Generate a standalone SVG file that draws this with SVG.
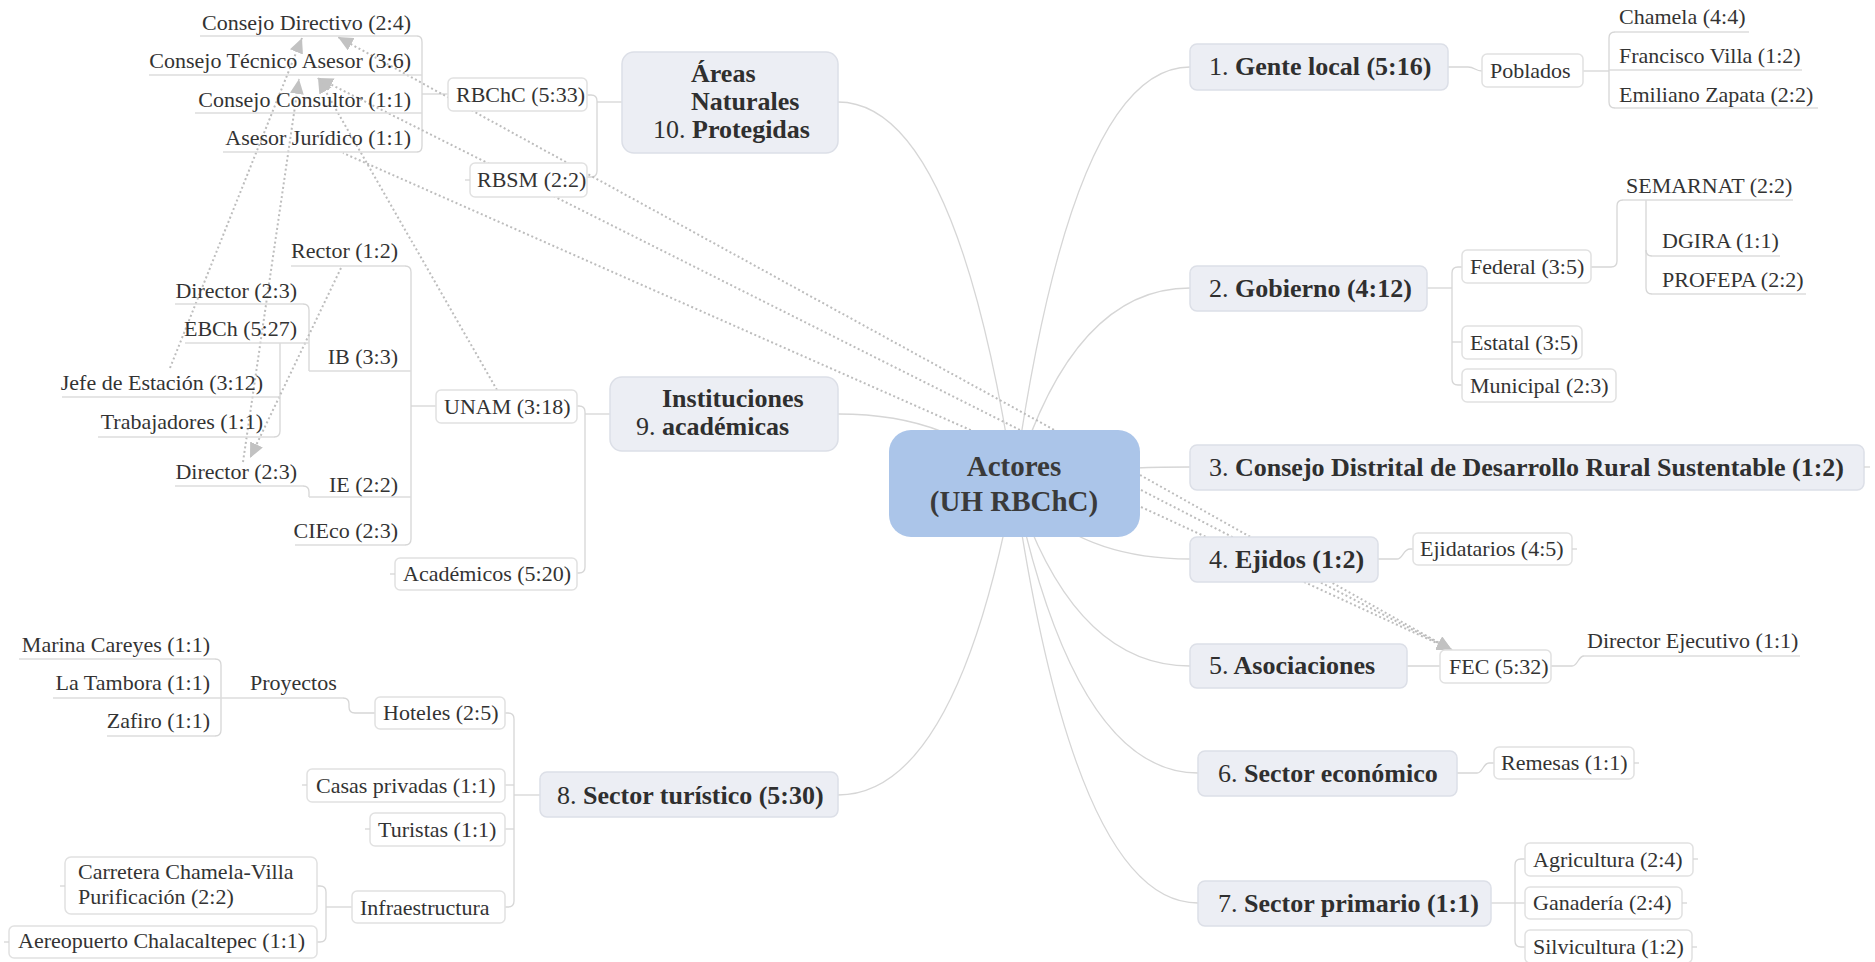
<svg xmlns="http://www.w3.org/2000/svg" width="1875" height="962" viewBox="0 0 1875 962">
<defs>
<style>
.ln{fill:none;stroke:#d6d6d6;stroke-width:1.3}
.ul{fill:none;stroke:#dcdcdc;stroke-width:1.6}
.rel{fill:none;stroke:#bdbdbd;stroke-width:2;stroke-dasharray:2 2.6}
.main{fill:#eceef4;stroke:#dcdfe7;stroke-width:1.5}
.leaf{fill:#ffffff;stroke:#e1e1e1;stroke-width:1.5}
.ctr{fill:#abc5e9}
text{font-family:"Liberation Serif","Times New Roman",serif;fill:#333}
.t{font-size:22px}
.m{font-size:26px;font-weight:bold;fill:#2f2f2f}
.n{font-weight:normal}
.c{font-size:29px;font-weight:bold;fill:#3a3a3a;text-anchor:middle}
.r{text-anchor:end}
</style>
<marker id="arr" markerWidth="16" markerHeight="14" refX="15" refY="7" orient="auto" markerUnits="userSpaceOnUse"><path d="M0,0 L15,7 L0,14 z" fill="#c2c2c2"/></marker>
</defs>
<rect x="0" y="0" width="1875" height="962" fill="#ffffff"/>
<g id="connectors">
<path class="ln" d="M1014,483 Q1072,67 1190,67"/>
<path class="ln" d="M1014,483 Q1072,288 1190,288"/>
<path class="ln" d="M1014,483 Q1072,467 1190,467"/>
<path class="ln" d="M1014,483 Q1072,559 1190,559"/>
<path class="ln" d="M1014,483 Q1072,666 1190,666"/>
<path class="ln" d="M1014,483 Q1075,773 1198,773"/>
<path class="ln" d="M1014,483 Q1075,903 1198,903"/>
<path class="ln" d="M1014,483 Q956,795 838,795"/>
<path class="ln" d="M1014,483 Q956,414 838,414"/>
<path class="ln" d="M1014,483 Q956,102 838,102"/>
<path class="ln" d="M1448,67 H1468 C1475,67 1475,71 1482,71"/>
<path class="ln" d="M1583,71 H1609"/>
<path class="ln" d="M1615,32 Q1609,32 1609,38 V102 Q1609,108 1615,108"/>
<path class="ln" d="M1427,288 H1452"/>
<path class="ln" d="M1462,267 H1458 Q1452,267 1452,273 V379 Q1452,385 1458,385 H1462"/>
<path class="ln" d="M1452,342 H1462"/>
<path class="ln" d="M1591,267 H1611 Q1617,267 1617,261 V206 Q1617,200 1623,200"/>
<path class="ln" d="M1646,200 V250 Q1646,256 1652,256"/>
<path class="ln" d="M1646,250 V288 Q1646,294 1652,294"/>
<path class="ln" d="M1378,559 H1397 C1403,559 1403,549 1410,549 H1413"/>
<path class="ln" d="M1407,666 H1440"/>
<path class="ln" d="M1551,666 H1572 C1578,666 1578,656 1584,656"/>
<path class="ln" d="M1457,773 H1477 C1483,773 1483,763 1489,763 H1494"/>
<path class="ln" d="M1491,903 H1515"/>
<path class="ln" d="M1525,859 H1521 Q1515,859 1515,865 V941 Q1515,947 1521,947 H1525"/>
<path class="ln" d="M1515,903 H1525"/>
<path class="ln" d="M622,102 H597"/>
<path class="ln" d="M587,95 H591 Q597,95 597,101 V171 Q597,177 591,177 H587"/>
<path class="ln" d="M448,94 H422"/>
<path class="ln" d="M417,36 Q422,36 422,42 V146 Q422,152 417,152"/>
<path class="ln" d="M610,414 H585"/>
<path class="ln" d="M577,406 H579 Q585,406 585,412 V567 Q585,573 579,573 H577"/>
<path class="ln" d="M436,406 H411"/>
<path class="ln" d="M405,266 Q411,266 411,272 V539 Q411,545 405,545"/>
<path class="ln" d="M303,304 Q309,304 309,310 V371"/>
<path class="ln" d="M280,343 V431 Q280,437 274,437"/>
<path class="ln" d="M303,486 Q309,486 309,492 V497"/>
<path class="ln" d="M540,795 H514"/>
<path class="ln" d="M505,713 H508 Q514,713 514,719 V901 Q514,907 508,907 H505"/>
<path class="ln" d="M514,785 H505"/>
<path class="ln" d="M514,829 H505"/>
<path class="ln" d="M375,713 H355 Q349,713 349,707 V704 Q349,698 343,698"/>
<path class="ln" d="M215,659 Q221,659 221,665 V730 Q221,736 215,736"/>
<path class="ln" d="M352,907 H326"/>
<path class="ln" d="M317,886 H320 Q326,886 326,892 V936 Q326,942 320,942 H317"/>
<path class="rel" d="M170,368 L302,38" marker-end="url(#arr)"/>
<path class="rel" d="M243,462 L299,79" marker-end="url(#arr)"/>
<path class="rel" d="M341,268 L250,458" marker-end="url(#arr)"/>
<path class="rel" d="M497,390 L318,78" marker-end="url(#arr)"/>
<path class="rel" d="M1058,432 L338,37" marker-end="url(#arr)"/>
<path class="rel" d="M1024,432 L318,78" marker-end="url(#arr)"/>
<path class="rel" d="M975,432 L343,153"/>
<path class="rel" d="M1140,475 L1452,650" marker-end="url(#arr)"/>
<path class="rel" d="M1141,490 L1452,650" marker-end="url(#arr)"/>
<path class="rel" d="M1141,507 L1452,650" marker-end="url(#arr)"/>
</g>
<g id="n-center"><rect class="ctr" x="889" y="430" width="251" height="107" rx="22"/><text class="c" x="1014" y="476">Actores</text><text class="c" x="1014" y="511">(UH RBChC)</text></g>
<g id="n1"><rect class="main" x="1190" y="44" width="258" height="46" rx="7"/><text class="m" x="1209" y="75"><tspan class="n">1.</tspan> Gente local (5:16)</text></g>
<g id="n1-poblados"><rect class="leaf" x="1482" y="54" width="101" height="33" rx="5"/><text class="t" x="1490" y="78">Poblados</text></g>
<g id="n1-chamela"><path class="ul" d="M1615,32 H1749"/><text class="t" x="1619" y="24">Chamela (4:4)</text></g>
<g id="n1-villa"><path class="ul" d="M1609,70 H1802"/><text class="t" x="1619" y="63">Francisco Villa (1:2)</text></g>
<g id="n1-zapata"><path class="ul" d="M1615,108 H1818"/><text class="t" x="1619" y="102">Emiliano Zapata (2:2)</text></g>
<g id="n2"><rect class="main" x="1190" y="266" width="237" height="45" rx="7"/><text class="m" x="1209" y="297"><tspan class="n">2.</tspan> Gobierno (4:12)</text></g>
<g id="n2-federal"><rect class="leaf" x="1462" y="250" width="129" height="33" rx="5"/><text class="t" x="1470" y="274">Federal (3:5)</text></g>
<g id="n2-estatal"><rect class="leaf" x="1462" y="326" width="120" height="33" rx="5"/><text class="t" x="1470" y="350">Estatal (3:5)</text></g>
<g id="n2-municipal"><rect class="leaf" x="1462" y="369" width="154" height="33" rx="5"/><text class="t" x="1470" y="393">Municipal (2:3)</text></g>
<g id="n2-semarnat"><path class="ul" d="M1623,200 H1793"/><text class="t" x="1626" y="193">SEMARNAT (2:2)</text></g>
<g id="n2-dgira"><path class="ul" d="M1652,256 H1780"/><text class="t" x="1662" y="248">DGIRA (1:1)</text></g>
<g id="n2-profepa"><path class="ul" d="M1652,294 H1806"/><text class="t" x="1662" y="287">PROFEPA (2:2)</text></g>
<g id="n3"><rect class="main" x="1190" y="445" width="674" height="45" rx="7"/><path class="ln" d="M1864,467 H1870"/><text class="m" x="1209" y="476"><tspan class="n">3.</tspan> Consejo Distrital de Desarrollo Rural Sustentable (1:2)</text></g>
<g id="n4"><rect class="main" x="1190" y="537" width="188" height="45" rx="7"/><text class="m" x="1209" y="568"><tspan class="n">4.</tspan> Ejidos (1:2)</text></g>
<g id="n4-ejidatarios"><rect class="leaf" x="1413" y="533" width="159" height="32" rx="5"/><path class="ln" d="M1572,549 H1577"/><text class="t" x="1420" y="556">Ejidatarios (4:5)</text></g>
<g id="n5"><rect class="main" x="1190" y="644" width="217" height="44" rx="7"/><text class="m" x="1209" y="674"><tspan class="n">5.</tspan> Asociaciones</text></g>
<g id="n5-fec"><rect class="leaf" x="1440" y="650" width="111" height="33" rx="5"/><text class="t" x="1449" y="674">FEC (5:32)</text></g>
<g id="n5-director"><path class="ul" d="M1584,656 H1800"/><text class="t" x="1587" y="648">Director Ejecutivo (1:1)</text></g>
<g id="n6"><rect class="main" x="1198" y="751" width="259" height="45" rx="7"/><text class="m" x="1218" y="782"><tspan class="n">6.</tspan> Sector económico</text></g>
<g id="n6-remesas"><rect class="leaf" x="1494" y="747" width="140" height="32" rx="5"/><path class="ln" d="M1634,763 H1639"/><text class="t" x="1501" y="770">Remesas (1:1)</text></g>
<g id="n7"><rect class="main" x="1198" y="881" width="293" height="45" rx="7"/><text class="m" x="1218" y="912"><tspan class="n">7.</tspan> Sector primario (1:1)</text></g>
<g id="n7-agricultura"><rect class="leaf" x="1525" y="843" width="168" height="33" rx="5"/><path class="ln" d="M1693,859 H1698"/><text class="t" x="1533" y="867">Agricultura (2:4)</text></g>
<g id="n7-ganaderia"><rect class="leaf" x="1525" y="887" width="157" height="32" rx="5"/><path class="ln" d="M1682,903 H1687"/><text class="t" x="1533" y="910">Ganadería (2:4)</text></g>
<g id="n7-silvicultura"><rect class="leaf" x="1525" y="930" width="167" height="33" rx="5"/><path class="ln" d="M1692,947 H1697"/><text class="t" x="1533" y="954">Silvicultura (1:2)</text></g>
<g id="n10"><rect class="main" x="622" y="52" width="216" height="101" rx="12"/><text class="m" x="691" y="82">Áreas</text><text class="m" x="691" y="110">Naturales</text><text class="m" x="653" y="138"><tspan class="n">10.</tspan> Protegidas</text></g>
<g id="n10-rbchc"><rect class="leaf" x="448" y="78" width="139" height="33" rx="5"/><text class="t" x="456" y="102">RBChC (5:33)</text></g>
<g id="n10-rbsm"><rect class="leaf" x="470" y="163" width="117" height="34" rx="5"/><path class="ln" d="M465,180 H470"/><text class="t" x="477" y="187">RBSM (2:2)</text></g>
<g id="n10-directivo"><path class="ul" d="M200,36 H417"/><text class="t r" x="411" y="30">Consejo Directivo (2:4)</text></g>
<g id="n10-tecnico"><path class="ul" d="M149,75 H422"/><text class="t r" x="411" y="68">Consejo Técnico Asesor (3:6)</text></g>
<g id="n10-consultor"><path class="ul" d="M195,113 H422"/><text class="t r" x="411" y="107">Consejo Consultor (1:1)</text></g>
<g id="n10-asesor"><path class="ul" d="M223,152 H417"/><text class="t r" x="411" y="145">Asesor Jurídico (1:1)</text></g>
<g id="n9"><rect class="main" x="610" y="377" width="228" height="74" rx="12"/><text class="m" x="662" y="407">Instituciones</text><text class="m" x="636" y="435"><tspan class="n">9.</tspan> académicas</text></g>
<g id="n9-unam"><rect class="leaf" x="436" y="390" width="141" height="33" rx="5"/><text class="t" x="444" y="414">UNAM (3:18)</text></g>
<g id="n9-academicos"><rect class="leaf" x="395" y="558" width="182" height="32" rx="5"/><path class="ln" d="M390,574 H395"/><text class="t" x="403" y="581">Académicos (5:20)</text></g>
<g id="n9-rector"><path class="ul" d="M291,266 H405"/><text class="t r" x="398" y="258">Rector (1:2)</text></g>
<g id="n9-ib"><path class="ul" d="M309,371 H411"/><text class="t r" x="398" y="364">IB (3:3)</text></g>
<g id="n9-ie"><path class="ul" d="M309,497 H411"/><text class="t r" x="398" y="492">IE (2:2)</text></g>
<g id="n9-cieco"><path class="ul" d="M295,545 H405"/><text class="t r" x="398" y="538">CIEco (2:3)</text></g>
<g id="n9-ib-director"><path class="ul" d="M175,304 H303"/><text class="t r" x="297" y="298">Director (2:3)</text></g>
<g id="n9-ebch"><path class="ul" d="M185,343 H309"/><text class="t r" x="297" y="336">EBCh (5:27)</text></g>
<g id="n9-jefe"><path class="ul" d="M62,397 H280"/><text class="t r" x="263" y="390">Jefe de Estación (3:12)</text></g>
<g id="n9-trabajadores"><path class="ul" d="M98,437 H274"/><text class="t r" x="263" y="429">Trabajadores (1:1)</text></g>
<g id="n9-ie-director"><path class="ul" d="M175,486 H303"/><text class="t r" x="297" y="479">Director (2:3)</text></g>
<g id="n8"><rect class="main" x="540" y="772" width="298" height="45" rx="7"/><text class="m" x="557" y="804"><tspan class="n">8.</tspan> Sector turístico (5:30)</text></g>
<g id="n8-hoteles"><rect class="leaf" x="375" y="697" width="130" height="32" rx="5"/><text class="t" x="383" y="720">Hoteles (2:5)</text></g>
<g id="n8-casas"><rect class="leaf" x="307" y="769" width="198" height="33" rx="5"/><path class="ln" d="M302,785 H307"/><text class="t" x="316" y="793">Casas privadas (1:1)</text></g>
<g id="n8-turistas"><rect class="leaf" x="370" y="813" width="135" height="33" rx="5"/><path class="ln" d="M365,829 H370"/><text class="t" x="378" y="837">Turistas (1:1)</text></g>
<g id="n8-infra"><rect class="leaf" x="352" y="891" width="153" height="32" rx="5"/><text class="t" x="360" y="915">Infraestructura</text></g>
<g id="n8-proyectos"><path class="ul" d="M221,698 H343"/><text class="t" x="250" y="690">Proyectos</text></g>
<g id="n8-marina"><path class="ul" d="M19,659 H215"/><text class="t r" x="210" y="652">Marina Careyes (1:1)</text></g>
<g id="n8-tambora"><path class="ul" d="M53,698 H221"/><text class="t r" x="210" y="690">La Tambora (1:1)</text></g>
<g id="n8-zafiro"><path class="ul" d="M107,736 H215"/><text class="t r" x="210" y="728">Zafiro (1:1)</text></g>
<g id="n8-carretera"><rect class="leaf" x="65" y="857" width="252" height="57" rx="6"/><path class="ln" d="M60,886 H65"/><text class="t" x="78" y="879">Carretera Chamela-Villa</text><text class="t" x="78" y="904">Purificación (2:2)</text></g>
<g id="n8-aereopuerto"><rect class="leaf" x="9" y="926" width="308" height="32" rx="5"/><path class="ln" d="M4,942 H9"/><text class="t" x="18" y="948">Aereopuerto Chalacaltepec (1:1)</text></g>
</svg>
